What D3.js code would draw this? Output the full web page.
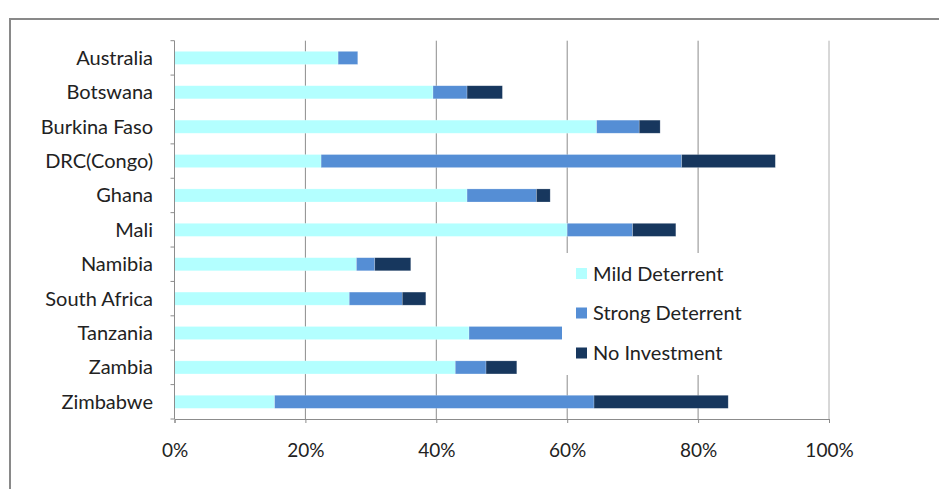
<!DOCTYPE html>
<html><head><meta charset="utf-8">
<script src="https://cdn.jsdelivr.net/npm/d3@7"></script>
<style>body{margin:0;background:#fff;}svg{display:block;}text{font-family:Lato,"Open Sans",sans-serif;fill:#222;}</style>
</head><body>
<svg id="c" width="939" height="489"></svg>
<script>
const categories = ["Australia","Botswana","Burkina Faso","DRC(Congo)","Ghana","Mali","Namibia","South Africa","Tanzania","Zambia","Zimbabwe"];
const seriesNames = ["Mild Deterrent","Strong Deterrent","No Investment"];
const mild   = [25.0, 39.5, 64.5, 22.4, 44.7, 60.0, 27.8, 26.7, 45.0, 42.9, 15.3];
const strong = [3.0, 5.2, 6.5, 55.1, 10.6, 10.0, 2.8, 8.1, 14.5, 4.7, 48.8];
const noInv  = [0, 5.4, 3.2, 14.3, 2.1, 6.6, 5.5, 3.6, 0, 4.7, 20.5];
const xTicks = [0, 20, 40, 60, 80, 100];
const colors = ["#b3ffff", "#558ed5", "#17375e"];

const svg = d3.select("#c");
// outer frame
svg.append("rect").attr("x", 10).attr("y", 19).attr("width", 940).attr("height", 480)
  .attr("fill", "none").attr("stroke", "#898989").attr("stroke-width", 2);

const x = d3.scaleLinear().domain([0, 100]).range([174.5, 829]);
const y = d3.scaleBand().domain(categories).range([40.7, 419]).paddingInner(0.62).paddingOuter(0.31);

// gridlines
svg.append("g").selectAll("line").data(xTicks.slice(1)).join("line")
  .attr("x1", d => x(d)).attr("x2", d => x(d)).attr("y1", 40.7).attr("y2", 419)
  .attr("stroke", (d) => d === 100 ? "#b0b0b0" : "#8c8c8c").attr("stroke-width", 1);

const rows = categories.map((c, i) => ({cat: c, v: [mild[i], strong[i], noInv[i]]}));
const stack = d3.stack().keys([0,1,2]).value((d, k) => d.v[k]);
const layers = stack(rows);

svg.append("g").selectAll("g").data(layers).join("g")
  .attr("fill", (d, i) => colors[i])
  .selectAll("rect").data(d => d).join("rect")
  .attr("x", d => x(d[0])).attr("width", d => Math.max(0, x(d[1]) - x(d[0])))
  .attr("y", d => y(d.data.cat)).attr("height", y.bandwidth())
  .attr("stroke", d => (d[1]-d[0])>0 ? "rgba(255,255,255,0.35)" : "none").attr("stroke-width", 0.6);

// axes
const xAxis = svg.append("g").attr("transform", "translate(0,419)")
  .call(d3.axisBottom(x).tickValues(xTicks).tickFormat(d => d + "%").tickSize(4).tickPadding(21));
xAxis.select(".domain").attr("stroke", "#8c8c8c");
xAxis.selectAll(".tick line").attr("stroke", "#8c8c8c");
xAxis.selectAll("text").attr("font-size", 19).attr("fill", "#222").attr("font-family", "Lato, sans-serif");

// y axis line and ticks at band boundaries
svg.append("line").attr("x1", 174.5).attr("x2", 174.5).attr("y1", 40.7).attr("y2", 419).attr("stroke", "#8c8c8c");
const bounds = d3.range(categories.length + 1).map(i => 40.7 + i * (378.3 / categories.length));
svg.append("g").selectAll("line").data(bounds).join("line")
  .attr("x1", 170.5).attr("x2", 174.5).attr("y1", d => d).attr("y2", d => d).attr("stroke", "#8c8c8c");
svg.append("g").selectAll("text").data(categories).join("text")
  .attr("x", 153).attr("y", d => y(d) + y.bandwidth() / 2).attr("dy", "0.35em")
  .attr("text-anchor", "end").attr("font-size", 20).text(d => d);

// legend
const lg = svg.append("g");
lg.append("rect").attr("x", 562).attr("y", 253).attr("width", 210).attr("height", 122).attr("fill", "#fff");
const ly = [273.5, 313, 353];
seriesNames.forEach((n, i) => {
  lg.append("rect").attr("x", 576).attr("y", ly[i] - 5.5).attr("width", 11).attr("height", 11).attr("fill", colors[i]);
  lg.append("text").attr("x", 593).attr("y", ly[i]).attr("dy", "0.35em").attr("font-size", 20).text(n);
});
</script>
</body></html>
